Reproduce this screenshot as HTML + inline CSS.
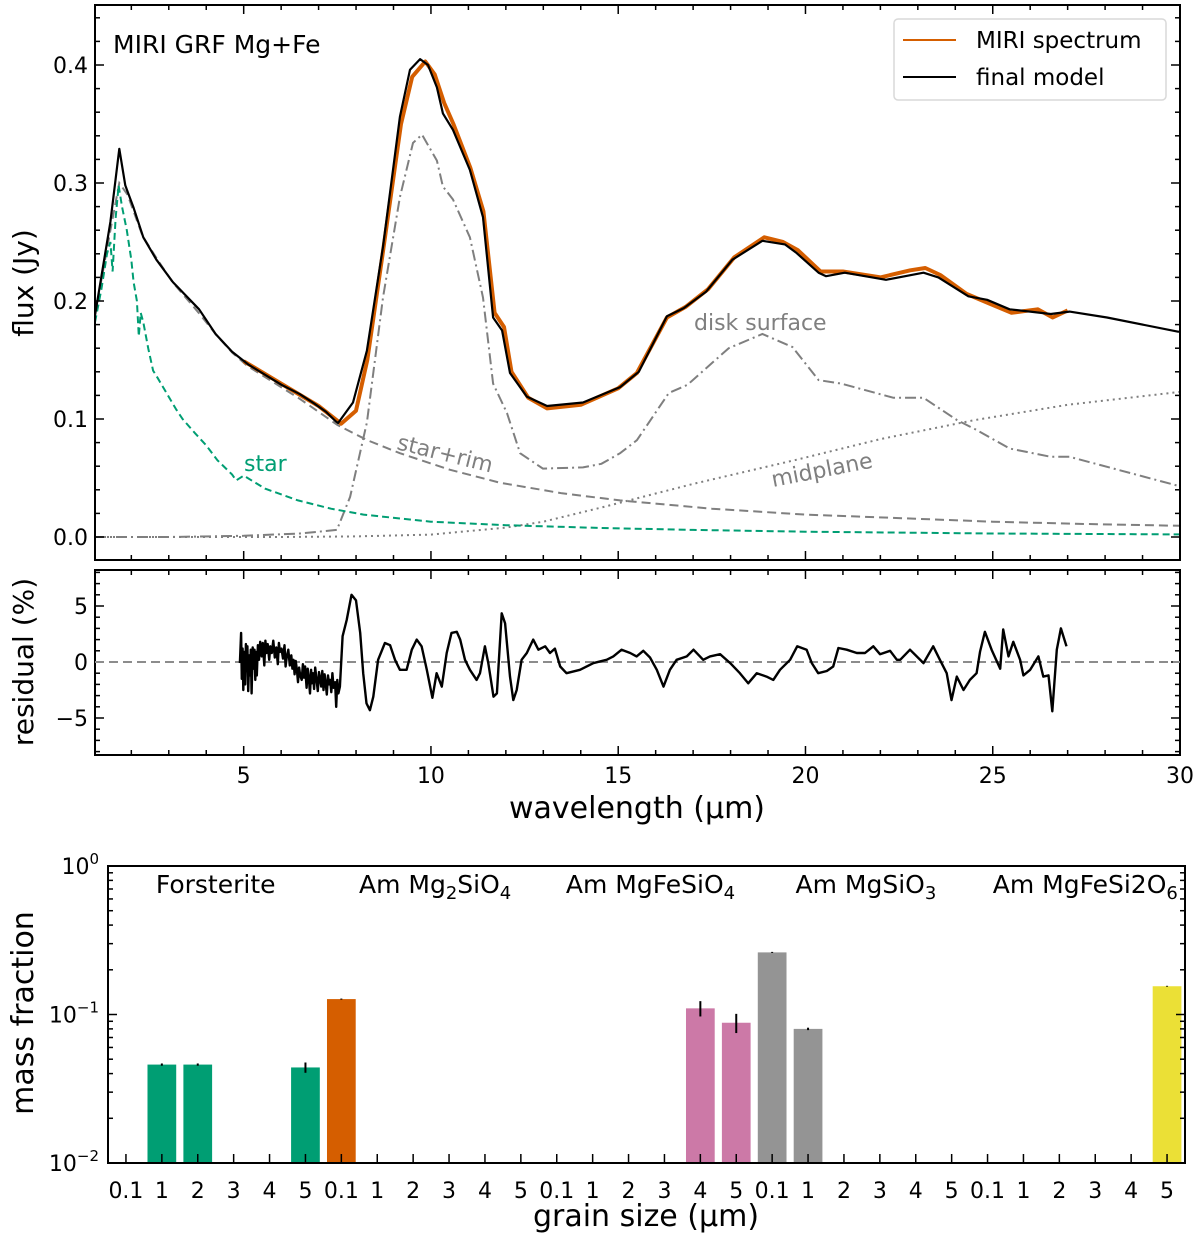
<!DOCTYPE html>
<html><head><meta charset="utf-8"><style>
html,body{margin:0;padding:0;background:#fff;}
svg{display:block;font-family:"DejaVu Sans","Liberation Sans",sans-serif;}
</style></head><body>
<svg id="fig" width="1200" height="1237" viewBox="0 0 1200 1237" xmlns="http://www.w3.org/2000/svg">
<defs>
<clipPath id="clipTop"><rect x="95" y="5" width="1085" height="555"/></clipPath>
<clipPath id="clipRes"><rect x="95" y="570" width="1085" height="185"/></clipPath>
</defs>
</svg>
<script>
// ---------- Top panel data ----------
const modelW = [1.03,1.44,1.68,1.84,2.06,2.32,2.67,3.11,3.81,4.25,4.69,5.13,6.01,6.5,6.89,7.2,7.46,7.52,7.92,8.29,8.72,9.17,9.44,9.71,9.92,10.16,10.32,10.59,11.04,11.39,11.66,11.9,12.11,12.56,13.1,14.06,15.05,15.55,16.3,16.75,17.35,18.05,18.85,19.45,19.75,20.35,20.55,21.05,22.15,23.15,23.55,24.35,24.85,25.45,26.55,27.05,28.05,29.95,30];
const modelF = [0.188,0.267,0.329,0.298,0.279,0.254,0.235,0.216,0.193,0.172,0.157,0.146,0.129,0.121,0.113,0.106,0.098,0.0966,0.114,0.158,0.246,0.356,0.396,0.405,0.40,0.381,0.359,0.345,0.311,0.271,0.186,0.175,0.139,0.119,0.111,0.114,0.127,0.14,0.187,0.194,0.208,0.235,0.251,0.248,0.241,0.224,0.221,0.224,0.218,0.224,0.22,0.204,0.201,0.193,0.189,0.191,0.186,0.174,0.174];
const miriW = [5.0,6.0,7.0,7.6,8.0,8.3,8.7,9.2,9.5,9.85,10.1,10.35,10.6,11.05,11.4,11.7,11.95,12.15,12.6,13.1,14.0,15.0,15.5,16.3,16.8,17.4,18.1,18.9,19.4,19.8,20.4,21.0,22.0,22.8,23.2,23.6,24.3,24.9,25.5,26.2,26.6,27.0];
const miriF = [0.149,0.130,0.111,0.096,0.107,0.150,0.238,0.350,0.390,0.403,0.392,0.368,0.350,0.313,0.276,0.19,0.178,0.14,0.118,0.109,0.112,0.126,0.139,0.186,0.195,0.21,0.237,0.254,0.25,0.243,0.225,0.225,0.22,0.226,0.228,0.222,0.206,0.198,0.19,0.193,0.186,0.192];
const starW = [1.03,1.2,1.35,1.44,1.5,1.58,1.66,1.75,1.88,2.0,2.06,2.15,2.2,2.25,2.32,2.45,2.58,2.7,2.94,3.2,3.37,3.7,3.99,4.3,4.69,4.8,5.0,5.57,6.45,7.33,8.2,9.08,10,12,14.55,17,20,25,30];
const starF = [0.182,0.21,0.24,0.25,0.225,0.27,0.298,0.28,0.26,0.235,0.216,0.2,0.17,0.19,0.182,0.16,0.141,0.135,0.122,0.108,0.10,0.088,0.078,0.065,0.053,0.048,0.052,0.041,0.031,0.024,0.019,0.016,0.013,0.010,0.0076,0.006,0.0045,0.003,0.0022];
const rimW = [1.03,1.44,1.68,1.9,2.3,2.7,3.1,3.8,4.3,4.7,5.1,6.0,6.5,7.5,8.3,9.17,10.5,11.84,13.5,15.05,17.5,20,22.5,25,27.5,30];
const rimF = [0.188,0.26,0.30,0.29,0.255,0.235,0.216,0.19,0.17,0.156,0.145,0.127,0.117,0.095,0.082,0.071,0.057,0.046,0.037,0.031,0.024,0.019,0.016,0.013,0.011,0.0095];
const diskW = [1.03,3,5,6.5,7.49,7.84,8.29,8.72,9.17,9.52,9.76,10.16,10.32,10.59,11.04,11.39,11.66,12.03,12.38,12.99,14.06,14.55,15.05,15.5,16.35,16.85,17.95,18.85,19.65,20.35,20.95,22.35,23.15,24.05,24.55,25.45,26.55,27.05,30];
const diskF = [0,0,0.001,0.003,0.006,0.034,0.097,0.203,0.288,0.334,0.341,0.319,0.297,0.286,0.254,0.203,0.13,0.105,0.071,0.058,0.059,0.062,0.071,0.082,0.122,0.129,0.16,0.172,0.161,0.133,0.13,0.118,0.118,0.099,0.091,0.075,0.068,0.068,0.043];
const midW = [1.03,6,8,10,12,13,14.55,17,19.7,22,24.5,27,30];
const midF = [0,0,0.0005,0.002,0.008,0.013,0.025,0.045,0.065,0.083,0.099,0.112,0.123];
const topYTicks = [0.0,0.1,0.2,0.3,0.4];
const topYLabels = ["0.0","0.1","0.2","0.3","0.4"];
const xTicks = [5,10,15,20,25,30];
// ---------- Residual data ----------
const resW = [4.90,4.93,4.95,4.97,4.99,5.01,5.04,5.06,5.08,5.10,5.12,5.15,5.17,5.19,5.21,5.24,5.26,5.29,5.31,5.33,5.35,5.38,5.41,5.44,5.48,5.51,5.55,5.58,5.61,5.64,5.68,5.71,5.75,5.79,5.83,5.87,5.91,5.94,5.97,6.01,6.05,6.09,6.12,6.15,6.19,6.23,6.27,6.30,6.33,6.36,6.39,6.42,6.45,6.48,6.51,6.55,6.58,6.61,6.64,6.68,6.71,6.74,6.77,6.80,6.82,6.85,6.88,6.91,6.95,6.98,7.01,7.04,7.07,7.10,7.13,7.16,7.19,7.22,7.25,7.28,7.31,7.34,7.37,7.40,7.44,7.47,7.50,7.53,7.57,7.64,7.75,7.88,8.0,8.11,8.19,8.28,8.37,8.46,8.59,8.77,8.91,9.04,9.17,9.35,9.49,9.62,9.75,9.89,10.04,10.15,10.29,10.42,10.55,10.69,10.78,10.91,11.04,11.22,11.31,11.44,11.53,11.67,11.76,11.89,11.98,12.11,12.2,12.29,12.42,12.56,12.73,12.87,13.05,13.18,13.31,13.45,13.62,13.98,14.34,14.69,14.87,15.09,15.32,15.49,15.67,15.85,16.03,16.21,16.38,16.56,16.83,17.01,17.27,17.45,17.72,17.99,18.25,18.47,18.7,18.96,19.14,19.32,19.59,19.78,20.03,20.17,20.34,20.57,20.74,20.88,21.1,21.37,21.59,21.81,21.99,22.26,22.44,22.53,22.79,23.15,23.41,23.59,23.77,23.9,24.04,24.22,24.39,24.57,24.66,24.79,24.97,25.2,25.28,25.42,25.55,25.73,25.82,26.0,26.22,26.35,26.49,26.59,26.71,26.82,26.97];
const resV = [-0.1,2.6,-1.5,1.2,-2.5,0.9,-2.0,1.6,-0.8,1.4,-2.6,0.6,-1.2,1.1,-2.8,1.3,-0.6,1.1,-1.6,0.9,-1.2,1.5,0.2,1.8,0.5,1.7,-0.3,1.9,0.8,1.6,0.2,1.4,0.8,1.9,0.4,1.3,-0.2,1.7,0.9,1.2,0.3,1.5,-0.4,0.5,1.1,-0.3,0.6,-0.6,0.2,-1.1,0.1,-0.7,-1.8,-0.5,-1.2,-1.6,-0.2,-1.4,-0.4,-2.3,-0.6,-1.5,-2.8,-0.7,-1.9,-1.0,-2.4,-0.5,-1.7,-2.6,-0.9,-1.5,-2.2,-0.8,-2.5,-1.1,-1.9,-2.9,-1.2,-2.0,-1.6,-2.7,-1.0,-2.3,-1.8,-4.0,-1.6,-2.8,-2.2,2.3,3.75,6.0,5.5,2.6,-1.0,-3.7,-4.3,-3.1,0.2,1.7,1.5,0.2,-0.7,-0.7,1.1,2.0,1.4,-0.7,-3.2,-1.0,-2.2,0.8,2.6,2.7,2.0,0.2,-0.7,-1.6,-1.0,1.4,-0.1,-3.1,-2.8,4.35,3.45,-1.3,-3.4,-2.5,0.2,0.8,2.0,1.1,1.4,0.8,1.2,-0.4,-1.0,-0.7,-0.1,0.2,0.5,1.1,0.8,0.5,1.0,0.4,-0.7,-2.2,-0.7,0.2,0.5,1.1,0.2,0.5,0.7,-0.1,-1.0,-1.9,-1.0,-1.3,-1.6,-0.7,0.2,1.4,1.1,-0.1,-1.0,-0.8,-0.4,1.25,1.1,0.8,0.8,1.4,0.7,1.0,0.2,0.2,1.1,-0.1,1.4,0.2,-1.0,-3.4,-1.3,-2.5,-1.6,-1.0,0.9,2.7,1.1,-0.6,2.9,0.5,1.8,0.2,-1.2,-0.7,0.5,-1.3,-1.2,-4.4,1.1,3.0,1.4];
const resYTicks = [5,0,-5];
const resYLabels = ["5","0","\u22125"];
// ---------- Bar chart data ----------
const sizeLabels = ["0.1","1","2","3","4","5"];
const groupNames = ["Forsterite","Am Mg2SiO4","Am MgFeSiO4","Am MgSiO3","Am MgFeSi2O6"];
const barIndex = [1,2,5,6,16,17,18,19,29];
const barValue = [0.046,0.046,0.044,0.127,0.110,0.088,0.262,0.080,0.155];
const barErr = [0.0008,0.0008,0.0035,0.001,0.013,0.013,0.002,0.0015,0.001];
const barGroup = [0,0,0,1,2,2,3,3,4];
const groupColors = ["#009E73","#D55E00","#CC79A7","#949494","#EBE036"];

const NS = "http://www.w3.org/2000/svg";
const svg = document.getElementById('fig');
function mk(tag, attrs, parent){ const e=document.createElementNS(NS,tag); for(const k in attrs) e.setAttribute(k,attrs[k]); (parent||svg).appendChild(e); return e; }
function txt(s, attrs, parent){ const e=mk('text',attrs,parent); e.textContent=s; return e; }

const TX0=95, TX1=1180, WMIN=1.03, WMAX=30;
const xS = w => TX0 + (w-WMIN)/(WMAX-WMIN)*(TX1-TX0);
const yT = f => 537 - f*1180;
const yR = r => 662 - r*11.2;
function pathOf(ws, vs, ys){ return ws.map((w,i)=>(i?'L':'M')+xS(w).toFixed(1)+','+ys(vs[i]).toFixed(1)).join(''); }

// ---------- TOP PANEL ----------
const gTop = mk('g',{'clip-path':'url(#clipTop)'});


let p;
p = mk('path',{d:pathOf(midW,midF,yT),fill:'none',stroke:'#7f7f7f','stroke-width':2,'stroke-dasharray':'2,4'},gTop);


p = mk('path',{d:pathOf(diskW,diskF,yT),fill:'none',stroke:'#7f7f7f','stroke-width':2,'stroke-dasharray':'11,4,2,4'},gTop);


p = mk('path',{d:pathOf(rimW,rimF,yT),fill:'none',stroke:'#7f7f7f','stroke-width':2,'stroke-dasharray':'9,5'},gTop);


p = mk('path',{d:pathOf(starW,starF,yT),fill:'none',stroke:'#009E73','stroke-width':2,'stroke-dasharray':'7,4'},gTop);


p = mk('path',{d:pathOf(miriW,miriF,yT),fill:'none',stroke:'#D55E00','stroke-width':4,'stroke-linejoin':'round'},gTop);


p = mk('path',{d:pathOf(modelW,modelF,yT),fill:'none',stroke:'#000','stroke-width':2.2,'stroke-linejoin':'round'},gTop);



function frame(x0,y0,x1,y1,name){
  const r = mk('rect',{x:x0,y:y0,width:x1-x0,height:y1-y0,fill:'none',stroke:'#000','stroke-width':2});
  
  
}
frame(95,5,1180,560,'spectrum-frame');
frame(95,570,1180,755,'residual-frame');
const tickG = mk('g',{stroke:'#000','stroke-width':1.5});


function xTicksFor(y0,y1){
  for(let w=2; w<=30; w++){
    const x=xS(w), L = (w%5===0)?9:5;
    mk('line',{x1:x,x2:x,y1:y1,y2:y1-L},tickG);
    mk('line',{x1:x,x2:x,y1:y0,y2:y0+L},tickG);
  }
}
xTicksFor(5,560); xTicksFor(570,755);
for(let k=0;k<=22;k++){
  const f=k*0.02; if(yT(f)<6) continue;
  const L=(k%5===0)?9:5, y=yT(f);
  mk('line',{x1:95,x2:95+L,y1:y,y2:y},tickG);
  mk('line',{x1:1180,x2:1180-L,y1:y,y2:y},tickG);
}
topYTicks.forEach((v,i)=>{
  const t = txt(topYLabels[i],{x:88,y:yT(v)+8,'font-size':22,'text-anchor':'end'});
  
  
});
for(let r=-8;r<=8;r++){
  const L=(r%5===0)?9:5, y=yR(r);
  mk('line',{x1:95,x2:95+L,y1:y,y2:y},tickG);
  mk('line',{x1:1180,x2:1180-L,y1:y,y2:y},tickG);
}
resYTicks.forEach((v,i)=>{
  const t = txt(resYLabels[i],{x:88,y:yR(v)+8,'font-size':22,'text-anchor':'end'});
  
  
});
xTicks.forEach(v=>{
  const t = txt(String(v),{x:xS(v),y:783,'font-size':22,'text-anchor':'middle'});
  
  
});

const gRes = mk('g',{'clip-path':'url(#clipRes)'});


p = mk('line',{x1:95,x2:1180,y1:yR(0),y2:yR(0),stroke:'#8c8c8c','stroke-width':2,'stroke-dasharray':'9,5'},gRes);


p = mk('path',{d:pathOf(resW,resV,yR),fill:'none',stroke:'#000','stroke-width':2.4,'stroke-linejoin':'round'},gRes);



let t;
t = txt('MIRI GRF Mg+Fe',{x:113,y:53,'font-size':25});


t = txt('flux (Jy)',{x:0,y:0,'font-size':28,'text-anchor':'middle',transform:'translate(33,283) rotate(-90)'});


t = txt('residual (%)',{x:0,y:0,'font-size':28,'text-anchor':'middle',transform:'translate(33,662) rotate(-90)'});


t = txt('wavelength (\u03bcm)',{x:637,y:818,'font-size':30,'text-anchor':'middle'});


t = txt('star',{x:244,y:471,'font-size':22,fill:'#009E73'});


t = txt('star+rim',{x:0,y:0,'font-size':22,fill:'#7f7f7f',transform:'translate(396,449) rotate(14)'});


t = txt('disk surface',{x:694,y:330,'font-size':22,fill:'#7f7f7f'});


t = txt('midplane',{x:0,y:0,'font-size':22,fill:'#7f7f7f',transform:'translate(773,487) rotate(-11)'});



const lg = mk('g',{});


mk('rect',{x:894,y:19,width:272,height:81,rx:4,fill:'#fff','fill-opacity':0.8,stroke:'#d9d9d9','stroke-width':1.5},lg);
p = mk('line',{x1:903,x2:956,y1:40,y2:40,stroke:'#D55E00','stroke-width':2},lg);


t = txt('MIRI spectrum',{x:976,y:48,'font-size':23},lg);


p = mk('line',{x1:903,x2:956,y1:77,y2:77,stroke:'#000','stroke-width':2},lg);


t = txt('final model',{x:976,y:85,'font-size':23},lg);



// ---------- BAR PANEL ----------
const BX0=108, BX1=1185, BY0=866, BY1=1163, NCAT=30;
const slot=(BX1-BX0)/NCAT;
const xB = i => BX0 + slot*(i+0.5);
const yB = v => BY1 - (Math.log10(v)+2)/2*(BY1-BY0);
const barsG = mk('g',{});


barIndex.forEach((ci,k)=>{
  const v=barValue[k], x=xB(ci), w=slot*0.8;
  const r = mk('rect',{x:x-w/2,y:yB(v),width:w,height:BY1-yB(v),fill:groupColors[barGroup[k]]},barsG);
  
  
  const e = mk('line',{x1:x,x2:x,y1:yB(v+barErr[k]),y2:yB(Math.max(v-barErr[k],0.011)),stroke:'#000','stroke-width':2},barsG);
  
  
});
frame(BX0,BY0,BX1,BY1,'bar-chart-frame');
const btk = mk('g',{stroke:'#000','stroke-width':1.5});


for(let d=-2; d<0; d++){
  for(let m=1;m<=9;m++){
    const v=m*Math.pow(10,d), y=yB(v), L=(m===1)?9:5;
    mk('line',{x1:BX0,x2:BX0+L,y1:y,y2:y},btk);
    mk('line',{x1:BX1,x2:BX1-L,y1:y,y2:y},btk);
  }
}
for(let i=0;i<NCAT;i++){
  const x=xB(i);
  mk('line',{x1:x,x2:x,y1:BY1,y2:BY1-9},btk);
  t = txt(sizeLabels[i%6],{x:x,y:1198,'font-size':22,'text-anchor':'middle'});
  
  
}
[0,-1,-2].forEach(e=>{
  const y=yB(Math.pow(10,e));
  const tt = mk('text',{x:99,y:y+8,'font-size':22,'text-anchor':'end'});
  
  
  const s1=document.createElementNS(NS,'tspan'); s1.textContent='10'; tt.appendChild(s1);
  const s2=document.createElementNS(NS,'tspan'); s2.setAttribute('dy','-10'); s2.setAttribute('font-size','15'); s2.textContent=(e<0?'\u2212':'')+Math.abs(e); tt.appendChild(s2);
});
const groupParts = [[["Forsterite",0]],[["Am Mg",0],["2",1],["SiO",0],["4",1]],[["Am MgFeSiO",0],["4",1]],[["Am MgSiO",0],["3",1]],[["Am MgFeSi2O",0],["6",1]]];
const groupShift = [0,4,4,4,8];
groupParts.forEach((parts,g)=>{
  const tt = mk('text',{x:xB(g*6+2.5)+groupShift[g],y:893,'font-size':25,'text-anchor':'middle'});
  
  
  let sub=false;
  parts.forEach(([s,isSub])=>{
    const sp=document.createElementNS(NS,'tspan');
    if(isSub && !sub){ sp.setAttribute('dy','6'); sp.setAttribute('font-size','18'); sub=true; }
    else if(!isSub && sub){ sp.setAttribute('dy','-6'); sub=false; }
    else if(isSub){ sp.setAttribute('font-size','18'); }
    sp.textContent=s; tt.appendChild(sp);
  });
});
t = txt('mass fraction',{x:0,y:0,'font-size':30,'text-anchor':'middle',transform:'translate(33,1013) rotate(-90)'});


t = txt('grain size (\u03bcm)',{x:646,y:1226,'font-size':30,'text-anchor':'middle'});


</script>
</body></html>
